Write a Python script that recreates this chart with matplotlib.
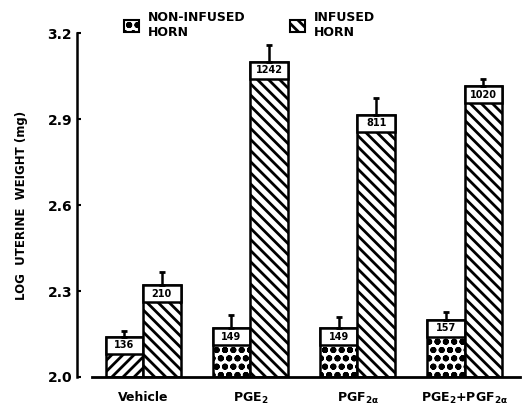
import numpy as np
import matplotlib
matplotlib.use('Agg')
import matplotlib.pyplot as plt
from matplotlib.patches import Patch

groups = ['Vehicle', r'PGE$_\mathbf{2}$', r'PGF$_\mathbf{2\alpha}$', r'PGE$_\mathbf{2}$+PGF$_\mathbf{2\alpha}$']
non_infused = [2.14, 2.17, 2.17, 2.20]
non_err = [0.02, 0.045, 0.04, 0.027]
non_n = ['136', '149', '149', '157']
infused = [2.32, 3.10, 2.915, 3.015]
inf_err = [0.045, 0.06, 0.06, 0.025]
inf_n = ['210', '1242', '811', '1020']

plt.rcParams['hatch.linewidth'] = 2.0
plt.rcParams['font.weight'] = 'bold'

fig = plt.figure(figsize=(5.23, 4.08), dpi=100)
ax = fig.add_axes([0.147, 0.076, 0.848, 0.843])

x = np.arange(len(groups))
w = 0.35
box = 0.06  # white label box at top of each bar
non_hatch = ['///', 'oo', 'oo', 'oo']
for i in x:
    for xc, val, err, n, h in [(x[i] - w/2, non_infused[i], non_err[i], non_n[i], non_hatch[i]),
                               (x[i] + w/2, infused[i], inf_err[i], inf_n[i], '\\\\\\')]:
        ax.bar(xc, val - 2.0, w, bottom=2.0, color='white', edgecolor='black',
               hatch=h, lw=1.8)
        ax.bar(xc, box, w, bottom=val - box, color='white', edgecolor='black', lw=1.8)
        ax.errorbar(xc, val, yerr=[[0], [err]], fmt='none', ecolor='black',
                    elinewidth=1.8, capsize=2.5, capthick=2)
        ax.text(xc, val - box/2, n, ha='center', va='center', fontsize=7,
                fontweight='bold')

ax.set_xlim(-0.617, 3.52)
ax.set_ylim(2.0, 3.2)
ax.set_yticks([2.0, 2.3, 2.6, 2.9, 3.2])
ax.set_yticklabels(['2.0', '2.3', '2.6', '2.9', '3.2'], fontsize=10, fontweight='bold')
ax.set_xticks(x)
ax.set_xticklabels(groups, fontsize=9, fontweight='bold')
ax.tick_params(axis='x', length=0, pad=10)
ax.tick_params(axis='y', direction='in', length=3, width=1.5)
for s in ['top', 'right', 'bottom']:
    ax.spines[s].set_visible(False)
ax.spines['left'].set_linewidth(1.8)
ax.axhline(2.0, xmin=0.034, xmax=1.0, color='black', lw=2, clip_on=False)
ax.set_ylabel('LOG  UTERINE  WEIGHT (mg)', fontsize=8.5, fontweight='bold', labelpad=14)

handles = [Patch(facecolor='white', edgecolor='black', hatch='oo', lw=1.5),
           Patch(facecolor='white', edgecolor='black', hatch='\\\\\\', lw=1.5)]
fig.legend(handles, ['NON-INFUSED\nHORN', 'INFUSED\nHORN'], ncol=2, frameon=False,
           loc='upper left', bbox_to_anchor=(0.215, 1.0), fontsize=9,
           handlelength=1.2, handleheight=1.2, columnspacing=3.6, handletextpad=0.7)

fig.savefig('out.png', dpi=100)
